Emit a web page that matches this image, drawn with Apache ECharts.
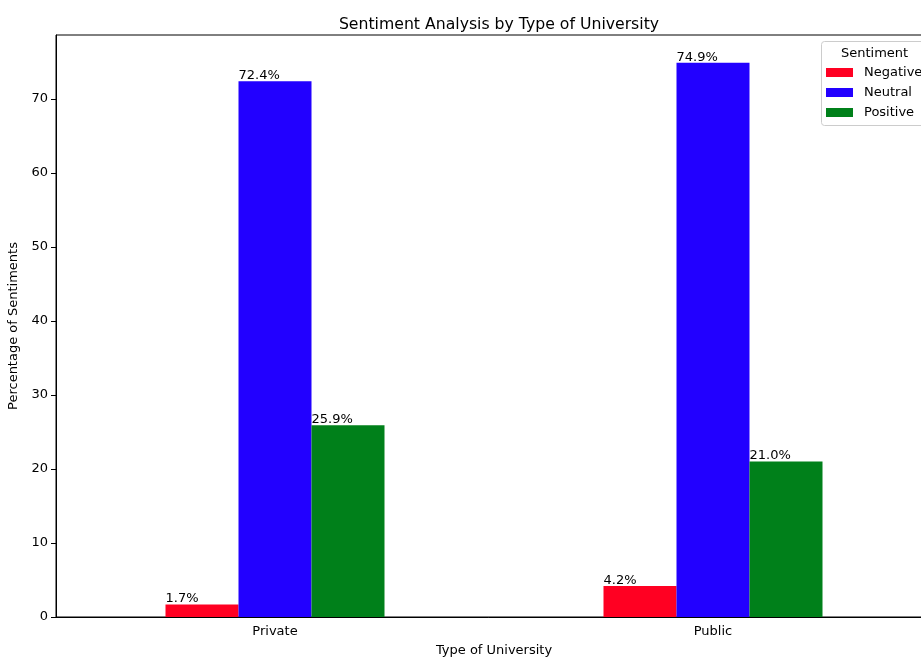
<!DOCTYPE html>
<html><head><meta charset="utf-8">
<script src="https://cdn.jsdelivr.net/npm/echarts@6/dist/echarts.min.js"></script>
<style>html,body{margin:0;padding:0;background:#fff}#c{width:921px;height:657px}</style>
</head><body><div id="c"></div>
<script>
const categories = ['Private', 'Public'];
const negative = [1.7, 4.2];
const neutral = [72.4, 74.9];
const positive = [25.9, 21.0];
const seriesNames = ['Negative', 'Neutral', 'Positive'];
const colors = ['#ff0022', '#2200ff', '#00801a'];
const yTicks = [0, 10, 20, 30, 40, 50, 60, 70];

const FONT = 'DejaVu Sans';
const chart = echarts.init(document.getElementById('c'), null, {renderer: 'canvas'});
const mk = (name, data, color) => ({
  name, type: 'bar', data, barWidth: 73, barGap: '0%',
  itemStyle: {color},
  label: {show: true, position: 'top', distance: 0, align: 'left', offset: [-36.5, 1],
    formatter: p => p.value.toFixed(1) + '%', color: '#000', fontFamily: FONT, fontSize: 13}
});
chart.setOption({
  animation: false,
  textStyle: {fontFamily: FONT},
  title: [
    {text: 'Sentiment Analysis by Type of University', left: 494, textAlign: 'center', top: 12,
      textStyle: {fontFamily: FONT, fontSize: 15.7, fontWeight: 'normal', color: '#000'}},
    {text: 'Sentiment', left: 836, top: 42,
      textStyle: {fontFamily: FONT, fontSize: 13, fontWeight: 'normal', color: '#000'}}
  ],
  graphic: [{type: 'rect', shape: {x: 821.5, y: 41.5, width: 110, height: 84, r: 3},
    style: {fill: 'rgba(255,255,255,0.8)', stroke: '#cccccc', lineWidth: 1}, z: 5}],
  legend: {orient: 'vertical', left: 826, top: 66, padding: 0, itemWidth: 27, itemHeight: 9, itemGap: 7,
    icon: 'rect', data: seriesNames, z: 10,
    textStyle: {fontFamily: FONT, fontSize: 13, color: '#000', padding: [0, 0, 0, 6]}},
  grid: {left: 56, top: 35, width: 876, height: 582, show: true, borderColor: '#000', borderWidth: 1,
    containLabel: false, outerBoundsMode: 'none'},
  xAxis: {type: 'category', data: categories, boundaryGap: true,
    name: 'Type of University', nameLocation: 'middle', nameGap: 27,
    nameTextStyle: {fontFamily: FONT, fontSize: 13, color: '#000'},
    axisLine: {lineStyle: {color: '#000'}},
    axisTick: {alignWithLabel: true, length: 5, lineStyle: {color: '#000'}},
    axisLabel: {fontFamily: FONT, fontSize: 13, color: '#000', margin: 8},
    splitLine: {show: false}},
  yAxis: {type: 'value', min: 0, max: 78.645,
    name: 'Percentage of Sentiments', nameLocation: 'middle', nameGap: 36,
    nameTextStyle: {fontFamily: FONT, fontSize: 13, color: '#000'},
    axisLine: {show: true, lineStyle: {color: '#000'}},
    axisTick: {show: true, length: 5, lineStyle: {color: '#000'}, customValues: yTicks},
    axisLabel: {fontFamily: FONT, fontSize: 13, color: '#000', margin: 8, customValues: yTicks},
    splitLine: {show: false}},
  series: [mk(seriesNames[0], negative, colors[0]), mk(seriesNames[1], neutral, colors[1]), mk(seriesNames[2], positive, colors[2])]
});
</script></body></html>
